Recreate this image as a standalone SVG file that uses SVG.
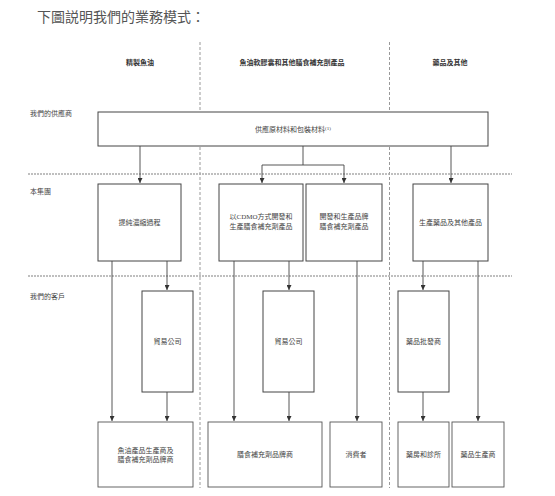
<svg xmlns="http://www.w3.org/2000/svg" width="555" height="496" viewBox="0 0 555 496">
<defs>
<marker id="ah" viewBox="0 0 6 6" refX="6" refY="3" markerWidth="5" markerHeight="5" orient="auto" markerUnits="userSpaceOnUse">
<path d="M0,0 L6,3 L0,6 z" fill="#333"/>
</marker>
<style>
.t{font-family:"Liberation Serif","Noto Sans CJK TC",serif;fill:#444;font-size:7px}
.h{font-family:"Liberation Serif","Noto Sans CJK TC",serif;fill:#333;font-size:7px;font-weight:bold}
.n{fill:#fff;stroke:#444;stroke-width:1}
.nd{fill:#fff;stroke:#555;stroke-width:0.9}
.c{fill:none;stroke:#444;stroke-width:0.9}
.vd{stroke:#999;stroke-width:1;stroke-dasharray:3,2}
.hd{stroke:#aaa;stroke-width:1.6;stroke-dasharray:2,1}
</style>
</defs>
<rect width="555" height="496" fill="#fff"/>
<text x="37" y="22" font-family="Liberation Serif,'Noto Sans CJK TC',serif" font-size="14" fill="#555">下圖説明我們的業務模式：</text>
<g id="grid">
<line class="vd" x1="200" y1="42" x2="200" y2="488"/>
<line class="vd" x1="389.5" y1="42" x2="389.5" y2="488"/>
<line class="hd" x1="28" y1="174" x2="512" y2="174"/>
<line class="hd" x1="28" y1="276" x2="512" y2="276"/>
</g>
<g id="headers">
<text class="h" x="140" y="65" text-anchor="middle">精製魚油</text>
<text class="h" x="292" y="65" text-anchor="middle">魚油軟膠囊和其他膳食補充劑產品</text>
<text class="h" x="450" y="65" text-anchor="middle">藥品及其他</text>
<text class="t" x="30" y="116">我們的供應商</text>
<text class="t" x="30" y="194">本集團</text>
<text class="t" x="30" y="299">我們的客戶</text>
</g>
<g id="connectors">
<line class="c" x1="140" y1="146" x2="140" y2="183" marker-end="url(#ah)"/>
<path class="c" d="M303,146 V165 H262 V183" marker-end="url(#ah)"/>
<path class="c" d="M303,165 H344 V183" marker-end="url(#ah)"/>
<line class="c" x1="451" y1="146" x2="451" y2="183" marker-end="url(#ah)"/>
<line class="c" x1="112" y1="261" x2="112" y2="421" marker-end="url(#ah)"/>
<line class="c" x1="167" y1="261" x2="167" y2="290" marker-end="url(#ah)"/>
<line class="c" x1="167" y1="392" x2="167" y2="421" marker-end="url(#ah)"/>
<line class="c" x1="234" y1="261" x2="234" y2="421" marker-end="url(#ah)"/>
<line class="c" x1="289" y1="261" x2="289" y2="290" marker-end="url(#ah)"/>
<line class="c" x1="289" y1="392" x2="289" y2="421" marker-end="url(#ah)"/>
<line class="c" x1="357" y1="261" x2="357" y2="421" marker-end="url(#ah)"/>
<line class="c" x1="423" y1="261" x2="423" y2="290" marker-end="url(#ah)"/>
<line class="c" x1="423" y1="392" x2="423" y2="421" marker-end="url(#ah)"/>
<line class="c" x1="478" y1="261" x2="478" y2="421" marker-end="url(#ah)"/>
</g>
<g id="supplier">
<rect class="n" x="98" y="112" width="390" height="34"/>
<text class="t" x="293" y="132" text-anchor="middle">供應原材料和包裝材料<tspan font-size="5" dy="-2">(1)</tspan></text>
</g>
<g id="refine">
<rect class="n" x="98" y="184" width="83" height="77"/>
<text class="t" x="139.5" y="225" text-anchor="middle">提純濃縮過程</text>
</g>
<g id="cdmo">
<rect class="n" x="219" y="184" width="84" height="77"/>
<text class="t" x="261" y="219" text-anchor="middle">以CDMO方式開發和</text>
<text class="t" x="261" y="229" text-anchor="middle">生產膳食補充劑產品</text>
</g>
<g id="brand">
<rect class="n" x="306" y="184" width="76" height="77"/>
<text class="t" x="344" y="219" text-anchor="middle">開發和生產品牌</text>
<text class="t" x="344" y="229" text-anchor="middle">膳食補充劑產品</text>
</g>
<g id="pharma">
<rect class="n" x="413" y="184" width="75" height="77"/>
<text class="t" x="450.5" y="225" text-anchor="middle">生產藥品及其他產品</text>
</g>
<g id="trade1">
<rect class="n" x="142" y="291" width="51" height="101"/>
<text class="t" x="167.5" y="344" text-anchor="middle">貿易公司</text>
</g>
<g id="trade2">
<rect class="n" x="263" y="291" width="51" height="101"/>
<text class="t" x="288.5" y="344" text-anchor="middle">貿易公司</text>
</g>
<g id="wholesale">
<rect class="n" x="398" y="291" width="51" height="101"/>
<text class="t" x="423.5" y="344" text-anchor="middle">藥品批發商</text>
</g>
<g id="c1">
<rect class="nd" x="98" y="422" width="95" height="65"/>
<text class="t" x="145.5" y="453" text-anchor="middle">魚油產品生產商及</text>
<text class="t" x="145.5" y="462" text-anchor="middle">膳食補充劑品牌商</text>
</g>
<g id="c2">
<rect class="nd" x="208" y="422" width="114" height="65"/>
<text class="t" x="265" y="457" text-anchor="middle">膳食補充劑品牌商</text>
</g>
<g id="c3">
<rect class="nd" x="330" y="422" width="52" height="65"/>
<text class="t" x="356" y="457" text-anchor="middle">消費者</text>
</g>
<g id="c4">
<rect class="nd" x="398" y="422" width="51" height="65"/>
<text class="t" x="423.5" y="457" text-anchor="middle">藥房和診所</text>
</g>
<g id="c5">
<rect class="nd" x="452" y="422" width="52" height="65"/>
<text class="t" x="478" y="457" text-anchor="middle">藥品生產商</text>
</g>
</svg>
